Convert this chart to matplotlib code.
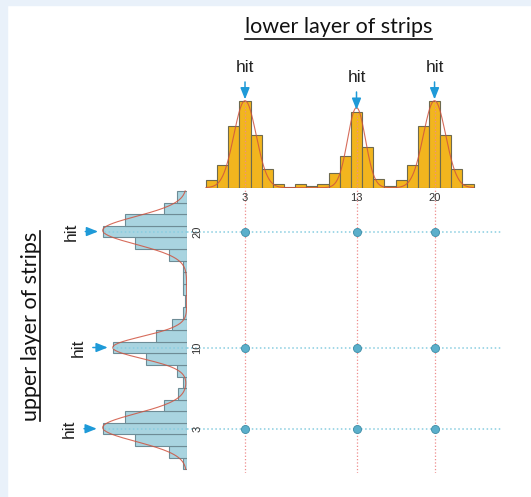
import matplotlib.pyplot as plt
from matplotlib.patches import Rectangle
from matplotlib.lines import Line2D
import numpy as np

strips = list(range(24))
# lower layer (top histogram) counts per strip
lower_counts = [9, 26, 71, 100, 61, 21, 4, 1, 4, 2, 4, 17, 36, 87, 47, 10, 2, 9, 26, 71, 100, 61, 21, 4]
# upper layer (left histogram) counts per strip
upper_counts = [5, 21, 62, 100, 73, 27, 10, 4, 12, 49, 88, 37, 18, 5, 2, 5, 4, 5, 21, 62, 100, 73, 27, 11]

lower_hits = [3, 13, 20]
upper_hits = [3, 10, 20]

# fitted peaks: (mean, amplitude, sigma)
lower_fit = [(3.0, 100, 1.0), (13.0, 92, 0.8), (20.0, 100, 1.0)]
upper_fit = [(3.1, 100, 1.2), (10.0, 88, 0.95), (20.1, 100, 1.2)]

W, H = 531, 497
fig = plt.figure(figsize=(W / 100, H / 100), dpi=100)
fig.patch.set_facecolor('white')
fig.add_artist(Rectangle((0, 0), 7 / W, 1, transform=fig.transFigure, color='#E9F1FA', zorder=0))
fig.add_artist(Rectangle((0, 1 - 5 / H), 1, 5 / H, transform=fig.transFigure, color='#E9F1FA', zorder=0))

x0, x1 = 186.7 / W, 502 / W
ybot, ytop = 1 - 473 / H, 1 - 187.7 / H
xlim = (-2.23, 26.05)
ylim = (-0.82, 23.78)

vcol = '#EE8C8C'
hcol = '#88CDE0'
blue = '#1E9AD8'
arrow = dict(arrowstyle='-|>,head_width=0.22,head_length=0.55', color=blue, lw=1.1, shrinkA=3, shrinkB=0)

# main grid of hits
ax = fig.add_axes([x0, ybot, x1 - x0, ytop - ybot])
ax.set_xlim(xlim)
ax.set_ylim(ylim)
ax.axis('off')
for xv in lower_hits:
    ax.axvline(xv, color=vcol, ls=':', lw=0.9)
for yv in upper_hits:
    ax.axhline(yv, color=hcol, ls=':', lw=1.1)
xx, yy = np.meshgrid(lower_hits, upper_hits)
ax.plot(xx.ravel(), yy.ravel(), 'o', ms=5.8, mfc='#5BAFCB', mec='#3D8CA5', mew=0.6, zorder=3)

# top histogram (lower layer)
axt = fig.add_axes([x0, ytop, x1 - x0, 139.2 / H], sharex=ax)
axt.set_ylim(0, 160)
axt.bar(strips, lower_counts, width=1.0, color='#F2B51E', edgecolor='#6E6A4E', lw=0.8, zorder=2)
xs = np.linspace(-0.5, 23.5, 400)
fit = sum(a * np.exp(-0.5 * ((xs - m) / s) ** 2) for m, a, s in lower_fit)
axt.plot(xs, fit, color='#D0533F', lw=0.8, alpha=0.85, zorder=3)
for xv in lower_hits:
    axt.vlines(xv, 0, lower_counts[xv], color=vcol, ls=':', lw=0.9, zorder=4)
for spine in axt.spines.values():
    spine.set_visible(False)
axt.set_yticks([])
axt.set_xticks(lower_hits)
axt.set_xticklabels([str(v) for v in lower_hits], fontsize=8, color='#333333', family='Liberation Sans')
axt.tick_params(axis='x', length=0, pad=4)
axt.patch.set_alpha(0)
hit_y = {3: (129.5, 101.5), 13: (118, 89.5), 20: (129.5, 101.5)}
for xv in lower_hits:
    ty, tip = hit_y[xv]
    axt.annotate('hit', xy=(xv, tip), xytext=(xv, ty), ha='center', va='bottom',
                 fontsize=12.5, family='Liberation Sans', color='#222222', annotation_clip=False,
                 arrowprops=arrow)

# left histogram (upper layer)
lw_px = 160 * 0.84
axl = fig.add_axes([x0 - lw_px / W, ybot, lw_px / W, ytop - ybot], sharey=ax)
axl.set_xlim(160, 0)
axl.barh(strips, upper_counts, height=1.0, color='#A9D4E0', edgecolor='#6E8C96', lw=0.8, zorder=2)
ys = np.linspace(-0.5, 23.5, 400)
fit = sum(a * np.exp(-0.5 * ((ys - m) / s) ** 2) for m, a, s in upper_fit)
axl.plot(fit, ys, color='#D0533F', lw=0.8, alpha=0.85, zorder=3)
for yv in upper_hits:
    axl.hlines(yv, 0, upper_counts[yv], color=hcol, ls=':', lw=1.1, zorder=4)
for spine in axl.spines.values():
    spine.set_visible(False)
axl.set_xticks([])
axl.yaxis.tick_right()
axl.set_yticks(upper_hits)
axl.set_yticklabels([str(v) for v in upper_hits], fontsize=8, color='#333333',
                    family='Liberation Sans', rotation=90, va='center')
axl.tick_params(axis='y', length=0, pad=4)
axl.patch.set_alpha(0)
hit_x = {3: (130.5, 107), 10: (120, 94), 20: (129, 105.5)}
for yv in upper_hits:
    tx, tip = hit_x[yv]
    axl.annotate('hit', xy=(tip, yv), xytext=(tx, yv), ha='right', va='center', rotation=90,
                 fontsize=12.5, family='Liberation Sans', color='#222222', annotation_clip=False,
                 arrowprops=arrow)

# underlined titles
t1 = fig.text(338.5 / W, 1 - 33 / H, 'lower layer of strips', ha='center', va='baseline',
              fontsize=15.5, family='Lato', color='#111111')
t2 = fig.text(31.5 / W, 1 - 326 / H, 'upper layer of strips', ha='center', va='center', rotation=90,
              fontsize=15.5, family='Lato', color='#111111')
fig.canvas.draw()
r = fig.canvas.get_renderer()
b1 = t1.get_window_extent(r)
uy = (H - 38.5) / H
fig.add_artist(Line2D([b1.x0 / W, b1.x1 / W], [uy, uy], transform=fig.transFigure, color='#111111', lw=1.2))
b2 = t2.get_window_extent(r)
ux = 39.5 / W
fig.add_artist(Line2D([ux, ux], [b2.y0 / H, b2.y1 / H], transform=fig.transFigure, color='#111111', lw=1.2))

fig.savefig('out.png', dpi=100)
